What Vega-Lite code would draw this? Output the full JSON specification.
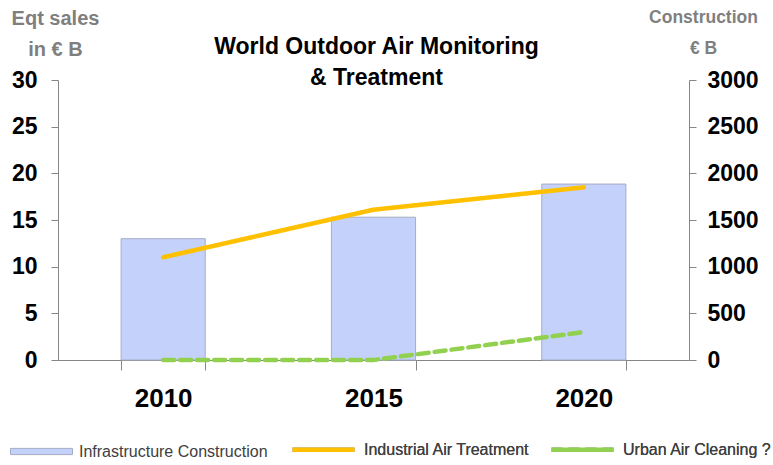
{
  "$schema": "https://vega.github.io/schema/vega-lite/v6.json",
  "width": 631,
  "height": 280,
  "autosize": {"type": "none"},
  "padding": {"left": 58, "top": 80, "right": 84, "bottom": 105},
  "background": "white",
  "config": {
    "view": {"stroke": null},
    "font": "Liberation Sans",
    "axis": {"grid": false, "domainColor": "#868686", "tickColor": "#868686", "labelFont": "Liberation Sans", "titleFont": "Liberation Sans"},
    "legend": {"labelFont": "Liberation Sans", "labelFontSize": 16, "labelColor": "#404040", "labelLimit": 400, "orient": "none", "direction": "horizontal"}
  },
  "title": {
    "text": ["World Outdoor Air Monitoring", "& Treatment"],
    "font": "Liberation Sans",
    "fontSize": 23,
    "fontWeight": "bold",
    "color": "#000000",
    "anchor": "middle",
    "lineHeight": 31,
    "offset": -82,
    "dx": 3
  },
  "datasets": {
    "bars": [
      {"year": "2010", "series": "Infrastructure Construction", "value": 1300},
      {"year": "2015", "series": "Infrastructure Construction", "value": 1530},
      {"year": "2020", "series": "Infrastructure Construction", "value": 1885}
    ],
    "lines": [
      {"year": "2010", "series": "Industrial Air Treatment", "value": 11},
      {"year": "2015", "series": "Industrial Air Treatment", "value": 16.1},
      {"year": "2020", "series": "Industrial Air Treatment", "value": 18.5},
      {"year": "2010", "series": "Urban Air Cleaning ?", "value": 0},
      {"year": "2015", "series": "Urban Air Cleaning ?", "value": 0},
      {"year": "2020", "series": "Urban Air Cleaning ?", "value": 3}
    ]
  },
  "encoding": {
    "x": {
      "field": "year",
      "type": "nominal",
      "scale": {"paddingInner": 0.6, "paddingOuter": 0.3},
      "axis": {
        "title": null,
        "labelAngle": 0,
        "labelFontSize": 26,
        "labelFontWeight": "bold",
        "labelColor": "#000000",
        "tickBand": "extent",
        "tickSize": 10,
        "labelPadding": 15
      }
    }
  },
  "layer": [
    {
      "data": {"name": "bars"},
      "mark": {"type": "bar", "stroke": "#a6adc4", "strokeWidth": 1},
      "encoding": {
        "y": {
          "field": "value",
          "type": "quantitative",
          "scale": {"domain": [0, 3000], "nice": false},
          "axis": {
            "orient": "right",
            "values": [0, 500, 1000, 1500, 2000, 2500, 3000],
            "format": "d",
            "labelFontSize": 23,
            "labelFontWeight": "bold",
            "labelColor": "#000000",
            "tickSize": 7,
            "labelPadding": 11,
            "title": ["Construction", "€ B"],
            "titleAngle": 0,
            "titleAlign": "center",
            "titleBaseline": "top",
            "titleX": 14,
            "titleY": -72,
            "titleFontSize": 17.5,
            "titleFontWeight": "bold",
            "titleColor": "#7f7f7f",
            "titleLineHeight": 31
          }
        },
        "fill": {
          "field": "series",
          "type": "nominal",
          "scale": {"range": ["#c3d1fb"]},
          "legend": {
            "title": null,
            "legendX": -48,
            "legendY": 340,
            "symbolType": "M-1,-0.1H1V0.1H-1Z",
            "symbolSize": 3844,
            "symbolStrokeColor": "#a6adc4",
            "symbolStrokeWidth": 1,
            "labelOffset": 6
          }
        }
      }
    },
    {
      "data": {"name": "lines"},
      "mark": {"type": "line", "strokeWidth": 4.5, "strokeCap": "round", "interpolate": "linear"},
      "encoding": {
        "y": {
          "field": "value",
          "type": "quantitative",
          "scale": {"domain": [0, 30], "nice": false},
          "axis": {
            "orient": "left",
            "values": [0, 5, 10, 15, 20, 25, 30],
            "labelFontSize": 23,
            "labelFontWeight": "bold",
            "labelColor": "#000000",
            "tickSize": 7,
            "labelPadding": 14,
            "title": ["Eqt sales", "in € B"],
            "titleAngle": 0,
            "titleAlign": "center",
            "titleBaseline": "top",
            "titleX": -3,
            "titleY": -72,
            "titleFontSize": 20,
            "titleFontWeight": "bold",
            "titleColor": "#7f7f7f",
            "titleLineHeight": 31
          }
        },
        "stroke": {
          "field": "series",
          "type": "nominal",
          "scale": {"domain": ["Industrial Air Treatment", "Urban Air Cleaning ?"], "range": ["#ffc000", "#92d050"]},
          "legend": {
            "title": null,
            "legendX": 232,
            "legendY": 336,
            "symbolType": "stroke",
            "symbolSize": 3844,
            "symbolStrokeWidth": 4.5,
            "labelOffset": 7,
            "columnPadding": 12
          }
        },
        "strokeDash": {
          "field": "series",
          "type": "nominal",
          "scale": {"domain": ["Industrial Air Treatment", "Urban Air Cleaning ?"], "range": [[1, 0], [11, 6]]},
          "legend": {
            "title": null,
            "legendX": 232,
            "legendY": 336,
            "symbolType": "stroke",
            "symbolSize": 3844,
            "symbolStrokeWidth": 4.5,
            "labelOffset": 7,
            "columnPadding": 12
          }
        }
      }
    }
  ],
  "resolve": {"scale": {"y": "independent", "fill": "independent", "stroke": "independent"}}
}
